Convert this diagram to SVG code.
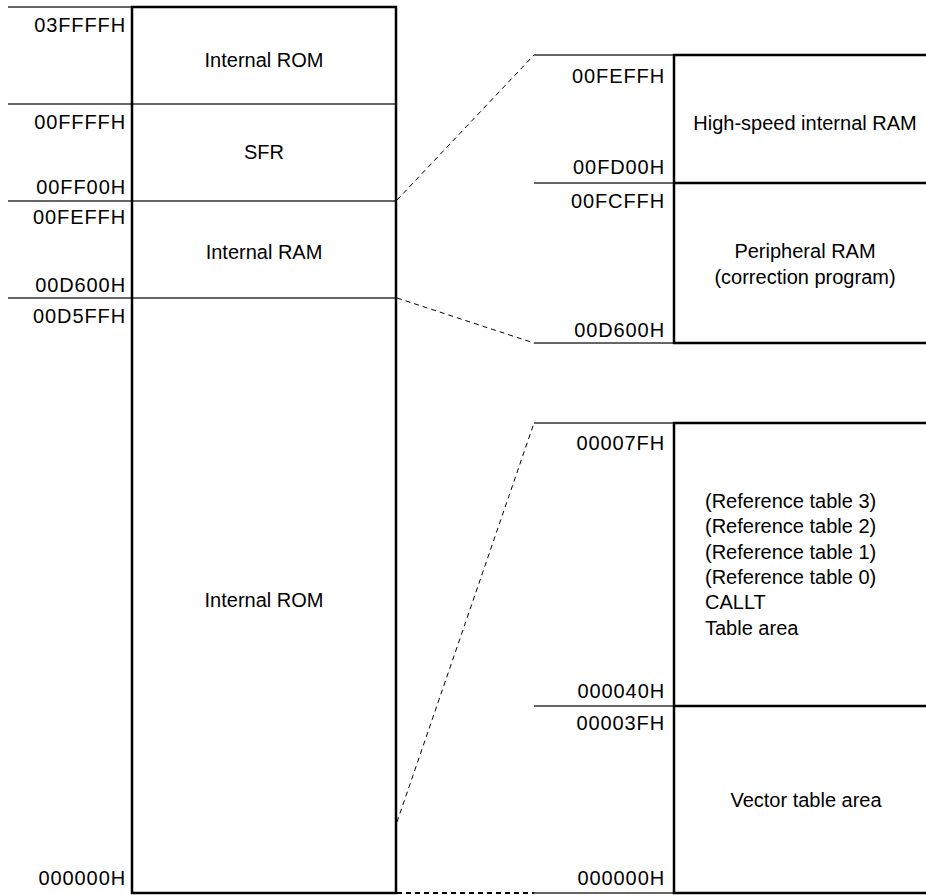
<svg xmlns="http://www.w3.org/2000/svg" width="926" height="895" viewBox="0 0 926 895">
<style>
text{font-family:"Liberation Sans",Arial,sans-serif;font-size:20px;fill:#000}
.a{text-anchor:end;letter-spacing:0.9px}
.c{text-anchor:middle}
.thin{stroke:#333;stroke-width:1.3;fill:none}
.thick{stroke:#000;stroke-width:2.5;fill:none}
.dash{stroke:#000;stroke-width:1;stroke-dasharray:5 4;fill:none}
.dashb{stroke:#000;stroke-width:2;stroke-dasharray:5 4;fill:none}
</style>
<rect width="926" height="895" fill="#fff"/>
<g id="connectors">
<line class="dash" x1="397" y1="200" x2="534" y2="55"/>
<line class="dash" x1="397" y1="298" x2="534" y2="343"/>
<line class="dash" x1="397" y1="822" x2="534" y2="423"/>
<line class="dashb" x1="397" y1="893" x2="534" y2="893"/>
</g>
<g id="left-map">
<line class="thin" x1="8" y1="7" x2="132" y2="7"/>
<line class="thin" x1="8" y1="104" x2="396" y2="104"/>
<line class="thin" x1="8" y1="201" x2="396" y2="201"/>
<line class="thin" x1="8" y1="298" x2="396" y2="298"/>
<rect class="thick" x="132" y="7" width="264" height="886"/>
</g>
<g id="internal-rom-top">
<text class="a" x="126" y="32">03FFFFH</text>
<text class="c" x="264" y="67">Internal ROM</text>
</g>
<g id="sfr">
<text class="a" x="126" y="129">00FFFFH</text>
<text class="a" x="126" y="194">00FF00H</text>
<text class="c" x="264" y="159">SFR</text>
</g>
<g id="internal-ram">
<text class="a" x="126" y="224">00FEFFH</text>
<text class="a" x="126" y="292">00D600H</text>
<text class="c" x="264" y="259">Internal RAM</text>
</g>
<g id="internal-rom-bottom">
<text class="a" x="126" y="323">00D5FFH</text>
<text class="a" x="126" y="885">000000H</text>
<text class="c" x="264" y="607">Internal ROM</text>
</g>
<g id="ram-detail">
<line class="thin" x1="534" y1="55" x2="674" y2="55"/>
<line class="thin" x1="534" y1="183" x2="674" y2="183"/>
<line class="thin" x1="534" y1="343" x2="674" y2="343"/>
<path class="thick" d="M930 55H674V343H930M674 183H930"/>
</g>
<g id="high-speed-ram">
<text class="a" x="665" y="83">00FEFFH</text>
<text class="a" x="665" y="174">00FD00H</text>
<text class="c" x="805" y="130">High-speed internal RAM</text>
</g>
<g id="peripheral-ram">
<text class="a" x="665" y="208">00FCFFH</text>
<text class="a" x="665" y="337">00D600H</text>
<text class="c" x="805" y="258">Peripheral RAM</text>
<text class="c" x="805" y="284">(correction program)</text>
</g>
<g id="rom-detail">
<line class="thin" x1="534" y1="423" x2="674" y2="423"/>
<line class="thin" x1="534" y1="706" x2="674" y2="706"/>
<line class="thin" x1="534" y1="893" x2="674" y2="893"/>
<path class="thick" d="M930 423H674V893H930M674 706H930"/>
</g>
<g id="callt-table">
<text class="a" x="665" y="450">00007FH</text>
<text class="a" x="665" y="698">000040H</text>
<text x="705" y="508">(Reference table 3)</text>
<text x="705" y="533">(Reference table 2)</text>
<text x="705" y="559">(Reference table 1)</text>
<text x="705" y="584">(Reference table 0)</text>
<text x="705" y="609">CALLT</text>
<text x="705" y="635">Table area</text>
</g>
<g id="vector-table">
<text class="a" x="665" y="730">00003FH</text>
<text class="a" x="665" y="885">000000H</text>
<text class="c" x="806" y="807">Vector table area</text>
</g>
</svg>
